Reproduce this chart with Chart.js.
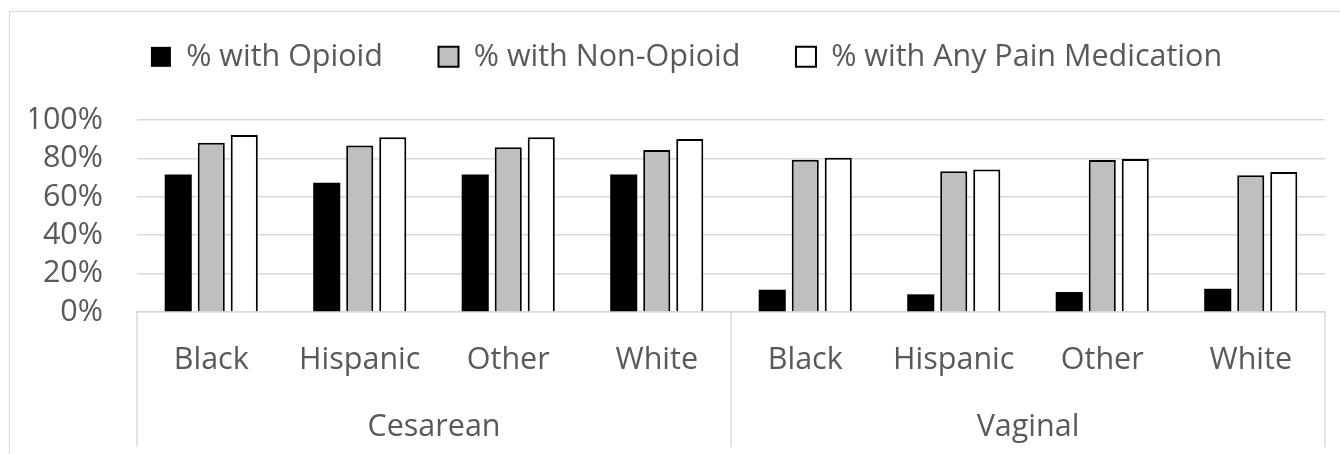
<!DOCTYPE html>
<html>
<head>
<meta charset="utf-8">
<script src="https://cdn.jsdelivr.net/npm/chart.js@4.4.0/dist/chart.umd.min.js"></script>
<style>
body { margin: 0; background: #fff; overflow: hidden; }
#frame { position: absolute; left: 9px; top: 11px; width: 1400px; height: 500px; border: 1px solid #d9d9d9; }
#box { position: absolute; left: 0; top: 0; width: 1340px; height: 454px; }
</style>
</head>
<body>
<div id="frame"></div>
<div id="box"><canvas id="myChart" width="1340" height="454"></canvas></div>
<script>
// values (percent)
const races = ["Black", "Hispanic", "Other", "White", "Black", "Hispanic", "Other", "White"];
const deliveries = ["Cesarean", "Vaginal"];
const opioid = [71.7, 67.3, 71.7, 71.7, 11.6, 9.2, 10.4, 12.1];
const nonOpioid = [88.2, 86.8, 85.8, 84.4, 79.3, 73.4, 79.2, 71.2];
const anyPain = [92.2, 91.0, 91.1, 90.1, 80.4, 74.3, 79.7, 72.9];
const yTicks = [0, 20, 40, 60, 80, 100];

const gridColor = "#d9d9d9";
const textColor = "#595959";

Chart.defaults.font.family = "'Open Sans', sans-serif";
Chart.defaults.font.size = 30.5;
Chart.defaults.color = textColor;

// push the plot area down below the legend, and nudge the legend a bit right
const legendSpace = {
    id: "legendSpace",
    beforeInit(chart) {
	const fitValue = chart.legend.fit;
	chart.legend.fit = function fit() {
	    fitValue.bind(chart.legend)();
	    this.height += 38;
	};
    },
    afterLayout(chart) {
	chart.legend.left += 18;
    }
};

// vertical lines between the delivery groups, through both label rows
const groupLines = {
    id: "groupLines",
    afterDraw(chart) {
	const x = chart.scales.x;
	const x2 = chart.scales.x2;
	const c = chart.ctx;
	c.save();
	c.strokeStyle = gridColor;
	c.lineWidth = 1.5;
	for (let i = 0; i <= races.length; i = i + 4) {
	    const px = x.getPixelForDecimal(i / races.length);
	    c.beginPath();
	    c.moveTo(px, chart.chartArea.bottom);
	    c.lineTo(px, x2.bottom + 1);
	    c.stroke();
	}
	c.restore();
    }
};

const ctx = document.getElementById("myChart").getContext("2d");
window.myChart = new Chart(ctx, {
    type: "bar",
    data: {
	labels: races,
	datasets: [
	    { label: "% with Opioid",
	      data: opioid,
	      backgroundColor: "#000000",
	      borderColor: "#000000",
	      borderWidth: 0 },
	    { label: "% with Non-Opioid",
	      data: nonOpioid,
	      backgroundColor: "#bfbfbf",
	      borderColor: "#000000",
	      borderWidth: 2 },
	    { label: "% with Any Pain Medication",
	      data: anyPain,
	      backgroundColor: "#ffffff",
	      borderColor: "#000000",
	      borderWidth: 2 }
	]
    },
    options: {
	responsive: false,
	animation: false,
	categoryPercentage: 0.667,
	barPercentage: 0.82,
	layout: { padding: { left: 30, right: 15, top: -14, bottom: 8 } },
	plugins: {
	    legend: {
		position: "top",
		labels: { boxWidth: 20, boxHeight: 20, padding: 55.6, color: textColor }
	    },
	    tooltip: { enabled: false }
	},
	scales: {
	    y: {
		min: 0,
		max: 100,
		afterBuildTicks: (s) => { s.ticks = yTicks.map(v => ({ value: v })); },
		afterFit: (s) => { s.width = 107; },
		ticks: { padding: 34, autoSkip: false, callback: (v) => v + "%" },
		grid: { color: gridColor, lineWidth: 1.5, drawTicks: false },
		border: { display: false }
	    },
	    x: {
		weight: 0,
		ticks: { padding: 29.7, autoSkip: false },
		grid: { display: false, drawTicks: false },
		border: { display: true, color: gridColor, width: 1.5 }
	    },
	    x2: {
		type: "category",
		position: "bottom",
		weight: 1,
		labels: deliveries,
		offset: true,
		ticks: { padding: 0.7 },
		grid: { display: false, drawTicks: false },
		border: { display: false }
	    }
	}
    },
    plugins: [legendSpace, groupLines]
});
</script>
</body>
</html>
